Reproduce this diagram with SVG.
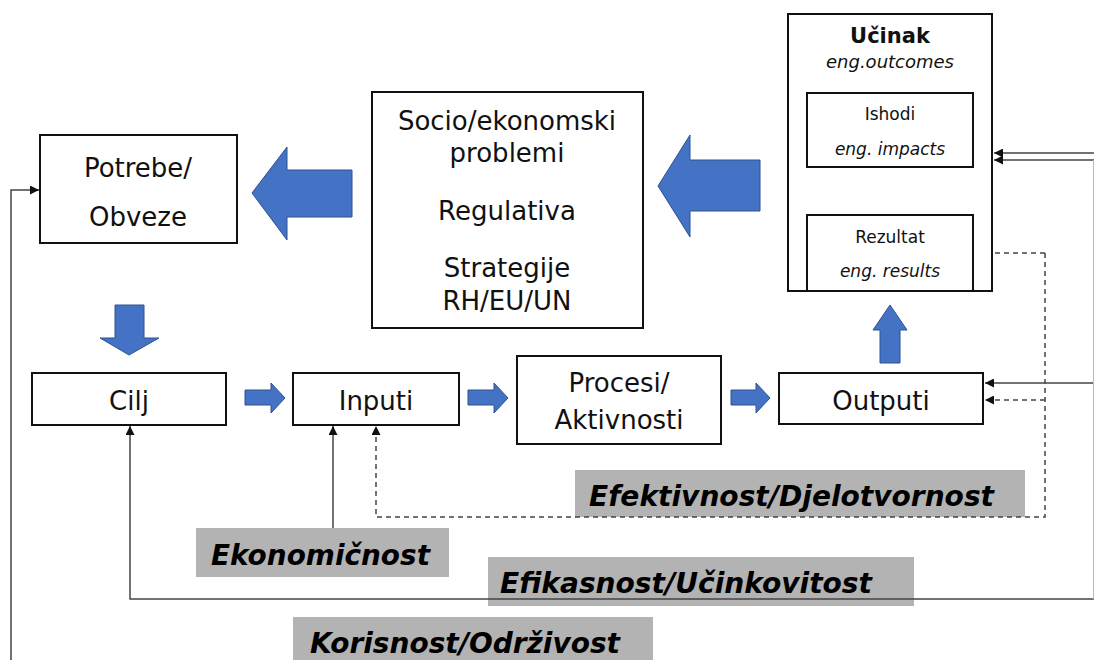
<svg xmlns="http://www.w3.org/2000/svg" width="1094" height="660" viewBox="0 0 1094 660">
<style>
.box{fill:#fff;stroke:#111;stroke-width:2}
.t{font-family:"DejaVu Sans","Verdana",sans-serif;fill:#111;text-anchor:middle}
.lbl{fill:#b3b3b3}
.lt{font-family:"DejaVu Sans","Verdana",sans-serif;font-weight:bold;font-style:italic;fill:#000}
.blue{fill:#4472c4;stroke:#2f528f;stroke-width:1}
.c{fill:none;stroke:#444;stroke-width:1.5}
.d{fill:none;stroke:#444;stroke-width:1.5;stroke-dasharray:5,4}
</style>
<defs>
<marker id="ah" viewBox="0 0 10 10" refX="10" refY="5" markerWidth="9" markerHeight="9" markerUnits="userSpaceOnUse" orient="auto"><path d="M0,0 L10,5 L0,10 z" fill="#111"/></marker>
</defs>
<rect width="1094" height="660" fill="#fff"/>

<g id="labels">
<rect class="lbl" x="575" y="470" width="450" height="47"/>
<rect class="lbl" x="488" y="557" width="426" height="49"/>
<rect class="lbl" x="196" y="528" width="253" height="49"/>
<rect class="lbl" x="293" y="617" width="360" height="43"/>
</g>

<g id="connectors">
<path class="c" d="M11,660 L11,190 L39,190" marker-end="url(#ah)"/>
<path class="c" d="M1094,599 L130,599 L130,426" marker-end="url(#ah)"/>
<path class="c" d="M333,528 L333,426" marker-end="url(#ah)"/>
<path class="d" d="M1045,253 L1045,517 L376,517 L376,426" marker-end="url(#ah)"/>
<path class="d" d="M1045,253 L975,253" marker-end="url(#ah)"/>
<path class="d" d="M1045,400 L985,400" marker-end="url(#ah)"/>
<path class="c" d="M1094,383 L985,383" marker-end="url(#ah)"/>
<path class="c" d="M1094,153 L994,153" marker-end="url(#ah)"/>
<path class="c" d="M1094,160 L994,160" marker-end="url(#ah)"/>
<path fill="none" stroke="#bbb" stroke-width="1" d="M1093.5,160 L1093.5,599"/>
</g>

<g id="label-texts">
<text class="lt" x="589" y="506" font-size="29" textLength="405" lengthAdjust="spacingAndGlyphs">Efektivnost/Djelotvornost</text>
<text class="lt" x="500" y="593" font-size="29" textLength="372" lengthAdjust="spacingAndGlyphs">Efikasnost/Učinkovitost</text>
<text class="lt" x="211" y="565" font-size="29" textLength="219" lengthAdjust="spacingAndGlyphs">Ekonomičnost</text>
<text class="lt" x="310" y="653" font-size="29" textLength="310" lengthAdjust="spacingAndGlyphs">Korisnost/Održivost</text>
</g>

<g id="arrows">
<polygon class="blue" points="252,193 287,147 287,170 352,170 352,217 287,217 287,240"/>
<polygon class="blue" points="658,186 690,135 690,160 760,160 760,211 690,211 690,237"/>
<polygon class="blue" points="115,305 144,305 144,338 159,338 129,355 100,338 115,338"/>
<polygon class="blue" points="245,390 271,390 271,383 285,398 271,413 271,405 245,405"/>
<polygon class="blue" points="468,390 494,390 494,383 508,398 494,413 494,405 468,405"/>
<polygon class="blue" points="731,390 756,390 756,383 770,398 756,413 756,405 731,405"/>
<polygon class="blue" points="890,305 907,330 900,330 900,363 880,363 880,330 873,330"/>
<polygon class="blue" points="891,169 906,182 899,182 899,209 884,209 884,182 877,182"/>
</g>

<g id="potrebe">
<rect class="box" x="40" y="135" width="197" height="108"/>
<text class="t" x="138" y="177" font-size="26">Potrebe/</text>
<text class="t" x="138" y="226" font-size="26">Obveze</text>
</g>

<g id="socio">
<rect class="box" x="372" y="92" width="271" height="236"/>
<text class="t" x="507" y="130" font-size="26">Socio/ekonomski</text>
<text class="t" x="507" y="162" font-size="26">problemi</text>
<text class="t" x="507" y="220" font-size="26">Regulativa</text>
<text class="t" x="507" y="277" font-size="26">Strategije</text>
<text class="t" x="507" y="310" font-size="26">RH/EU/UN</text>
</g>

<g id="ucinak">
<rect class="box" x="788" y="14" width="204" height="277"/>
<text class="t" x="890" y="43" font-size="21" font-weight="bold">Učinak</text>
<text class="t" x="890" y="68" font-size="18" font-style="italic">eng.outcomes</text>
</g>

<g id="ishodi">
<rect class="box" x="807" y="93" width="166" height="74"/>
<text class="t" x="890" y="120" font-size="17">Ishodi</text>
<text class="t" x="890" y="155" font-size="17" font-style="italic">eng. impacts</text>
</g>

<g id="rezultat">
<rect class="box" x="807" y="215" width="166" height="76"/>
<text class="t" x="890" y="243" font-size="17">Rezultat</text>
<text class="t" x="890" y="277" font-size="17" font-style="italic">eng. results</text>
</g>

<g id="cilj">
<rect class="box" x="32" y="373" width="194" height="52"/>
<text class="t" x="129" y="410" font-size="26">Cilj</text>
</g>

<g id="inputi">
<rect class="box" x="293" y="373" width="166" height="52"/>
<text class="t" x="376" y="410" font-size="26">Inputi</text>
</g>

<g id="procesi">
<rect class="box" x="517" y="356" width="204" height="88"/>
<text class="t" x="619" y="392" font-size="26">Procesi/</text>
<text class="t" x="619" y="429" font-size="26">Aktivnosti</text>
</g>

<g id="outputi">
<rect class="box" x="779" y="373" width="204" height="51"/>
<text class="t" x="881" y="410" font-size="26">Outputi</text>
</g>
</svg>
